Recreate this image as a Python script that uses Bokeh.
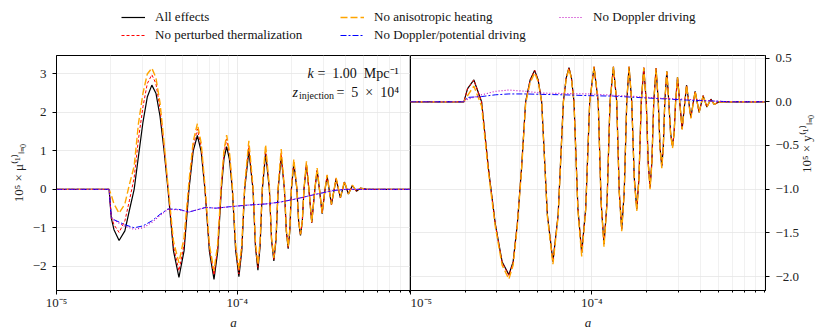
import math
from bokeh.plotting import figure
from bokeh.layouts import column, row
from bokeh.models import Range1d, FixedTicker, CustomJSTickFormatter, Label, Legend, LegendItem
from bokeh.embed import file_html
from bokeh.resources import INLINE

FONT = "Liberation Serif"

# ---------------- data ----------------
series_names = ["All effects", "No perturbed thermalization", "No anisotropic heating",
                "No Doppler/potential driving", "No Doppler driving"]

# Left panel: 10^5 x mu^(1)_{l=0}
a_left = [1.0e-5, 1.955e-5, 2.01e-5, 2.08e-5, 2.22e-5, 2.39e-5, 2.53e-5, 2.69e-5,
          2.84e-5, 3.01e-5, 3.18e-5, 3.37e-5, 3.55e-5, 3.74e-5, 3.93e-5, 4.14e-5,
          4.44e-5, 4.76e-5, 5.08e-5, 5.41e-5,
          5.71e-5, 6.02e-5, 6.32e-5, 6.63e-5, 7.02e-5, 7.44e-5, 7.80e-5, 8.17e-5,
          8.45e-5, 8.74e-5, 9.06e-5, 9.40e-5, 9.80e-5, 1.022e-4, 1.060e-4, 1.100e-4,
          1.160e-4, 1.223e-4, 1.262e-4, 1.302e-4, 1.338e-4, 1.378e-4, 1.436e-4, 1.507e-4,
          1.549e-4, 1.595e-4, 1.640e-4, 1.685e-4, 1.752e-4, 1.825e-4, 1.870e-4, 1.915e-4,
          1.955e-4, 1.995e-4, 2.057e-4, 2.140e-4, 2.189e-4, 2.240e-4, 2.292e-4, 2.342e-4,
          2.417e-4, 2.493e-4, 2.586e-4, 2.690e-4, 2.770e-4, 2.852e-4, 2.952e-4, 3.063e-4,
          3.146e-4, 3.227e-4, 3.323e-4, 3.528e-4, 3.726e-4, 3.921e-4, 4.126e-4, 4.341e-4,
          4.568e-4, 4.806e-4, 5.235e-4, 9.1e-4]
mu_all = [0.0, 0.0, -0.75, -1.05, -1.33, -1.08, -0.55, 0.0,
          0.85, 1.75, 2.40, 2.71, 2.50, 1.90, 1.05, 0.0,
          -1.60, -2.29, -1.60, 0.0,
          1.00, 1.40, 0.98, 0.0, -1.62, -2.34, -1.62, 0.0,
          0.80, 1.11, 0.78, 0.0, -1.58, -2.27, -1.60, 0.0,
          1.00, 0.0, -1.50, -2.10, -1.50, 0.0, 0.94, 0.0,
          -1.32, -1.86, -1.32, 0.0, 0.86, 0.0, -1.09, -1.54,
          -1.09, 0.0, 0.68, 0.0, -0.85, -1.20, -0.85, 0.0,
          0.64, 0.0, -0.87, 0.0, 0.49, 0.0, -0.63, 0.0,
          0.34, 0.0, -0.40, 0.27, -0.22, 0.19, -0.12, 0.10,
          -0.05, 0.03, 0.0, 0.0]
mu_no_therm = [0.0, 0.0, -0.70, -0.92, -1.12, -0.82, -0.30, 0.30,
               1.30, 2.15, 2.75, 2.98, 2.75, 2.10, 1.15, 0.05,
               -1.48, -2.12, -1.45, 0.10,
               1.12, 1.57, 1.10, 0.05, -1.55, -2.23, -1.52, 0.08,
               0.92, 1.31, 0.90, 0.05, -1.52, -2.20, -1.53, 0.05,
               1.13, 0.03, -1.45, -2.03, -1.45, 0.05, 1.04, 0.03,
               -1.29, -1.82, -1.29, 0.03, 0.95, 0.02, -1.07, -1.52,
               -1.07, 0.02, 0.73, 0.02, -0.84, -1.19, -0.84, 0.01,
               0.68, 0.01, -0.86, 0.01, 0.52, 0.0, -0.62, 0.0,
               0.36, 0.0, -0.40, 0.28, -0.22, 0.20, -0.12, 0.10,
               -0.05, 0.03, 0.0, 0.0]
mu_no_aniso = [0.0, 0.0, -0.15, -0.38, -0.62, -0.38, 0.12, 0.60,
               1.70, 2.50, 3.00, 3.15, 2.90, 2.25, 1.25, 0.10,
               -1.35, -1.91, -1.25, 0.20,
               1.25, 1.71, 1.20, 0.10, -1.45, -2.12, -1.42, 0.15,
               1.02, 1.41, 0.98, 0.08, -1.42, -2.08, -1.43, 0.10,
               1.26, 0.06, -1.38, -1.95, -1.38, 0.08, 1.16, 0.05,
               -1.26, -1.78, -1.26, 0.06, 1.05, 0.04, -1.05, -1.49,
               -1.05, 0.04, 0.78, 0.03, -0.83, -1.17, -0.83, 0.02,
               0.73, 0.02, -0.85, 0.02, 0.55, 0.01, -0.61, 0.01,
               0.38, 0.0, -0.39, 0.30, -0.21, 0.21, -0.12, 0.11,
               -0.05, 0.03, 0.0, 0.0]

a_left_smooth = [1.0e-5, 1.955e-5, 2.01e-5, 2.08e-5, 2.22e-5, 2.39e-5, 2.69e-5, 3.01e-5,
                 3.37e-5, 3.74e-5, 4.14e-5, 4.76e-5, 5.41e-5, 6.02e-5, 6.69e-5, 7.60e-5,
                 9.19e-5, 1.137e-4, 1.436e-4, 1.737e-4, 2.157e-4, 2.653e-4, 3.41e-4, 3.97e-4,
                 9.1e-4]
mu_no_dop_pot = [0.0, 0.0, -0.72, -0.79, -0.85, -0.92, -1.00, -0.95,
                 -0.82, -0.65, -0.51, -0.52, -0.59, -0.53, -0.47, -0.49,
                 -0.45, -0.41, -0.38, -0.33, -0.24, -0.14, -0.03, 0.0,
                 0.0]
mu_no_dop = [0.0, 0.0, -0.74, -0.80, -0.88, -0.96, -1.04, -1.00,
             -0.86, -0.68, -0.52, -0.53, -0.59, -0.53, -0.47, -0.49,
             -0.45, -0.41, -0.38, -0.33, -0.24, -0.14, -0.03, 0.0,
             0.0]

# Right panel: 10^5 x y^(1)_{l=0}
a_right = [1.0e-5, 1.970e-5, 2.065e-5, 2.237e-5, 2.468e-5, 2.690e-5, 2.938e-5, 3.203e-5,
           3.492e-5, 3.685e-5, 3.886e-5, 4.100e-5, 4.319e-5, 4.574e-5, 4.843e-5, 5.064e-5,
           5.294e-5, 5.691e-5, 6.111e-5, 6.529e-5, 6.977e-5, 7.228e-5, 7.491e-5, 7.733e-5,
           7.983e-5, 8.391e-5, 8.806e-5, 9.267e-5, 9.750e-5, 1.030e-4, 1.086e-4, 1.127e-4,
           1.169e-4, 1.215e-4, 1.262e-4, 1.318e-4, 1.374e-4, 1.419e-4, 1.464e-4, 1.512e-4,
           1.561e-4, 1.607e-4, 1.663e-4, 1.717e-4, 1.773e-4, 1.823e-4, 1.877e-4, 1.938e-4,
           2.000e-4, 2.049e-4, 2.099e-4, 2.148e-4, 2.200e-4, 2.265e-4, 2.330e-4, 2.382e-4,
           2.436e-4, 2.483e-4, 2.531e-4, 2.597e-4, 2.663e-4, 2.725e-4, 2.792e-4, 2.849e-4,
           2.904e-4, 2.975e-4, 3.155e-4, 3.337e-4, 3.524e-4, 3.722e-4, 3.915e-4, 4.120e-4,
           4.319e-4, 4.544e-4, 4.739e-4, 5.050e-4, 9.1e-4]
y_all = [0.0, 0.0, 0.15, 0.25, 0.0, -0.76, -1.40, -1.83,
         -1.98, -1.83, -1.40, -0.76, 0.0, 0.25, 0.36, 0.25,
         0.0, -1.29, -1.83, -1.29, 0.0, 0.27, 0.39, 0.27,
         0.0, -1.22, -1.73, -1.22, 0.0, 0.40, 0.0, -1.15,
         -1.63, -1.15, 0.0, 0.40, 0.0, -1.03, -1.46, -1.03,
         0.0, 0.40, 0.0, -0.87, -1.23, -0.87, 0.0, 0.39,
         0.0, -0.69, -0.98, -0.69, 0.0, 0.385, 0.0, -0.52,
         -0.74, -0.52, 0.0, 0.35, 0.0, -0.36, -0.51, -0.36,
         0.0, 0.28, -0.31, 0.19, -0.18, 0.12, -0.12, 0.07,
         -0.06, 0.03, -0.03, 0.0, 0.0]
y_no_therm = [0.0, 0.0, 0.15, 0.25, 0.0, -0.76, -1.40, -1.84,
              -1.99, -1.84, -1.40, -0.76, 0.0, 0.25, 0.36, 0.25,
              0.0, -1.29, -1.83, -1.29, 0.0, 0.27, 0.39, 0.27,
              0.0, -1.22, -1.73, -1.22, 0.0, 0.40, 0.0, -1.15,
              -1.63, -1.15, 0.0, 0.40, 0.0, -1.03, -1.46, -1.03,
              0.0, 0.40, 0.0, -0.87, -1.23, -0.87, 0.0, 0.39,
              0.0, -0.69, -0.98, -0.69, 0.0, 0.385, 0.0, -0.52,
              -0.74, -0.52, 0.0, 0.35, 0.0, -0.36, -0.51, -0.36,
              0.0, 0.28, -0.31, 0.19, -0.18, 0.12, -0.12, 0.07,
              -0.06, 0.03, -0.03, 0.0, 0.0]
y_no_aniso = [0.0, 0.0, 0.07, 0.18, -0.05, -0.80, -1.43, -1.87,
              -2.03, -1.87, -1.42, -0.78, -0.02, 0.22, 0.33, 0.23,
              0.0, -1.31, -1.86, -1.31, 0.0, 0.26, 0.38, 0.26,
              0.0, -1.24, -1.77, -1.24, 0.0, 0.40, 0.0, -1.16,
              -1.66, -1.16, 0.0, 0.40, 0.0, -1.04, -1.48, -1.04,
              0.0, 0.40, 0.0, -0.88, -1.25, -0.88, 0.0, 0.39,
              0.0, -0.70, -1.00, -0.70, 0.0, 0.38, 0.0, -0.53,
              -0.76, -0.53, 0.0, 0.35, 0.0, -0.37, -0.53, -0.37,
              0.0, 0.28, -0.32, 0.19, -0.19, 0.12, -0.12, 0.07,
              -0.06, 0.03, -0.03, 0.0, 0.0]

a_right_smooth = [1.0e-5, 1.970e-5, 2.065e-5, 2.237e-5, 2.468e-5, 2.938e-5, 3.492e-5, 4.319e-5,
                  5.294e-5, 6.977e-5, 9.750e-5, 1.318e-4, 1.773e-4, 2.436e-4, 3.337e-4, 4.544e-4,
                  5.86e-4, 9.1e-4]
y_no_dop_pot = [0.0, 0.0, 0.05, 0.055, 0.06, 0.08, 0.09, 0.09,
                0.085, 0.08, 0.07, 0.065, 0.05, 0.035, 0.02, 0.01,
                0.0, 0.0]
y_no_dop = [0.0, 0.0, 0.03, 0.05, 0.08, 0.12, 0.135, 0.12,
            0.10, 0.095, 0.09, 0.075, 0.06, 0.04, 0.03, 0.01,
            0.0, 0.0]

left_ticks = [-2, -1, 0, 1, 2, 3]
right_ticks = [-2.0, -1.5, -1.0, -0.5, 0.0, 0.5]
x_major = [1e-5, 1e-4, 1e-3]
x_minor = [2e-5, 3e-5, 4e-5, 5e-5, 6e-5, 7e-5, 8e-5, 9e-5,
           2e-4, 3e-4, 4e-4, 5e-4, 6e-4, 7e-4, 8e-4, 9e-4]

# ---------------- styles ----------------
colors = ["#000000", "#ff0000", "#ffa500", "#0000ff", "#bf00bf"]
dashes = ["solid", "3 2", "7 3", "6 2 2 2", "1 2"]
widths = [1.2, 1.0, 1.4, 1.0, 1.1]

sup_code = """
const e = Math.round(Math.log10(tick));
const m = {"-":"\u207b","0":"\u2070","1":"\u00b9","2":"\u00b2","3":"\u00b3","4":"\u2074","5":"\u2075","6":"\u2076","7":"\u2077","8":"\u2078","9":"\u2079"};
return "10" + String(e).split("").map(c => m[c]).join("");
"""


def style(p, yticks, ydigits):
    p.outline_line_color = "black"
    p.outline_line_width = 1
    p.background_fill_color = "white"
    p.border_fill_color = "white"
    xt = FixedTicker(ticks=x_major, minor_ticks=x_minor)
    p.xaxis.ticker = xt
    p.xaxis.formatter = CustomJSTickFormatter(code=sup_code)
    p.yaxis.ticker = FixedTicker(ticks=yticks)
    p.yaxis.formatter = CustomJSTickFormatter(
        code="return (tick < 0 ? '\u2212' : '') + Math.abs(tick).toFixed(%d);" % ydigits)
    for ax in p.axis:
        ax.axis_line_color = "black"
        ax.major_tick_line_color = "black"
        ax.minor_tick_line_color = "black"
        ax.major_tick_out = 4
        ax.major_tick_in = 0
        ax.minor_tick_out = 2
        ax.minor_tick_in = 0
        ax.major_label_text_font = FONT
        ax.major_label_text_font_size = "13px"
        ax.major_label_text_color = "#222222"
        ax.axis_label_text_font = FONT
        ax.axis_label_text_font_size = "13px"
        ax.axis_label_text_font_style = "normal"
        ax.axis_label_text_color = "#222222"
    p.yaxis.major_label_standoff = 6
    p.yaxis.axis_label_standoff = 4
    p.xaxis.major_label_standoff = 0
    p.xaxis.axis_label_standoff = 2
    p.yaxis.minor_tick_line_color = None
    p.xaxis.axis_label = "a"
    p.xaxis.axis_label_text_font_style = "italic"
    p.xgrid.ticker = xt
    p.xgrid.grid_line_color = "#e6e6e6"
    p.xgrid.grid_line_width = 0.8
    p.xgrid.minor_grid_line_color = "#eeeeee"
    p.xgrid.minor_grid_line_width = 0.8
    p.ygrid.grid_line_color = "#e6e6e6"
    p.ygrid.grid_line_width = 0.8


left = figure(width=410, height=288, x_axis_type="log",
              x_range=Range1d(1e-5, 9.1e-4), y_range=Range1d(-2.63, 3.48),
              toolbar_location=None, output_backend="svg",
              min_border_left=56, min_border_right=0, min_border_top=8, min_border_bottom=45)
style(left, left_ticks, 0)
left.yaxis.axis_label = "10\u2075 \u00d7 \u03bc\u207d\u00b9\u207e\u2097\u208c\u2080"

left_sets = [(a_left, mu_all), (a_left, mu_no_therm), (a_left, mu_no_aniso),
             (a_left_smooth, mu_no_dop_pot), (a_left_smooth, mu_no_dop)]
for (xs, ys), c, d, w in zip(left_sets, colors, dashes, widths):
    left.line(xs, ys, line_color=c, line_dash=d, line_width=w)

lab_kw = dict(text_font=FONT, text_font_size="14px", text_baseline="middle", text_color="#111111")
left.add_layout(Label(x=2.449e-4, y=3.0, text="k", text_font_style="italic", **lab_kw))
left.add_layout(Label(x=2.781e-4, y=3.0, text="=\u20021.00\u2002Mpc\u207b\u00b9", **lab_kw))
left.add_layout(Label(x=2.024e-4, y=2.51, text="z", text_font_style="italic", **lab_kw))
left.add_layout(Label(x=2.198e-4, y=2.43, text="injection", text_font=FONT, text_font_size="10px",
                      text_baseline="middle", text_color="#111111"))
left.add_layout(Label(x=3.542e-4, y=2.51, text="=\u20025\u2002\u00d7\u200210\u2074", **lab_kw))

right = figure(width=420, height=288, x_axis_type="log", y_axis_location="right",
               x_range=Range1d(1e-5, 9.1e-4), y_range=Range1d(-2.16, 0.53),
               toolbar_location=None, output_backend="svg",
               min_border_left=0, min_border_right=65, min_border_top=8, min_border_bottom=45)
style(right, right_ticks, 1)
right.yaxis.axis_label = "10\u2075 \u00d7 y\u207d\u00b9\u207e\u2097\u208c\u2080"
right.yaxis.axis_label_orientation = math.pi / 2

right_sets = [(a_right, y_all), (a_right, y_no_therm), (a_right, y_no_aniso),
              (a_right_smooth, y_no_dop_pot), (a_right_smooth, y_no_dop)]
for (xs, ys), c, d, w in zip(right_sets, colors, dashes, widths):
    right.line(xs, ys, line_color=c, line_dash=d, line_width=w)

# ---------------- legend strip (keys drawn from the same series, kept out of view) ----------------
leg = figure(width=830, height=47, toolbar_location=None, output_backend="svg",
             x_range=Range1d(0, 1), y_range=Range1d(100, 101),
             x_axis_location=None, y_axis_location=None, min_border=0,
             outline_line_color=None)
leg.grid.visible = False
items = []
for name, (xs, ys), c, d, w in zip(series_names, left_sets, colors, dashes, widths):
    r = leg.line(xs, ys, line_color=c, line_dash=d, line_width=w)
    items.append(LegendItem(label=name, renderers=[r]))
legend = Legend(items=items, nrows=2, orientation="vertical", location=(121, 4),
                border_line_color=None, background_fill_alpha=0,
                glyph_width=24, glyph_height=14, label_height=14, label_width=183,
                label_standoff=10, spacing=2, padding=2, margin=0,
                label_text_font=FONT, label_text_font_size="13px", label_text_color="#111111")
leg.add_layout(legend, "center")

layout = column(leg, row(left, right, spacing=0), spacing=0)
open("out.html", "w").write(file_html(layout, INLINE))
